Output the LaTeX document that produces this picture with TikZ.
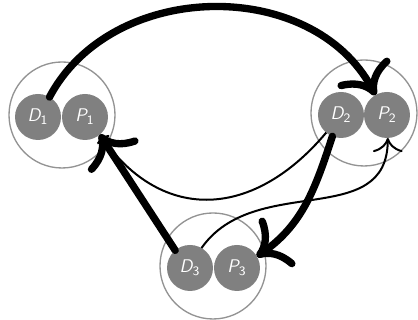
\documentclass[tikz,border=0pt]{standalone}
\usepackage{tikz}
\usepackage{xcolor}
\usetikzlibrary{arrows.meta}

\begin{document}
\begin{tikzpicture}[x=0.6pt, y=0.6pt,
    group/.style={circle, draw=gray!85, line width=0.8pt, minimum size=63.6pt, inner sep=0pt},
    proc/.style={circle, fill=gray, text=white, minimum size=27.6pt, inner sep=0pt, outer sep=0pt,
                 font=\fontsize{11}{13}\selectfont\sffamily},
    heavy/.style={-{To[scale=1.5]}, line width=4.4pt, line cap=round, line join=round},
    light/.style={-{To[scale=2]}, line width=1.2pt}]
    \useasboundingbox (0,0) rectangle (418,320);
    % the three groups
    \node[group] (g1) at (62,205) {};
    \node[group] (g2) at (364,207) {};
    \node[group] (g3) at (213,54) {};
    \node[proc] (d1) at (38,203) {\itshape D\textsubscript{\upshape 1}};
    \node[proc] (p1) at (85,203) {\itshape P\textsubscript{\upshape 1}};
    \node[proc] (d2) at (341,205) {\itshape D\textsubscript{\upshape 2}};
    \node[proc] (p2) at (387,205) {\itshape P\textsubscript{\upshape 2}};
    \node[proc] (d3) at (190,52) {\itshape D\textsubscript{\upshape 3}};
    \node[proc] (p3) at (237,52) {\itshape P\textsubscript{\upshape 3}};
    % messages
    \draw[light, -{To}] (d2.-130) to[out=-130, in=-55, looseness=1.25] (p1.-50);
    \draw[light] (d3.60) to[out=55, in=-90, looseness=1.1] (p2.-88);
    \draw[heavy] (d1.60) to[out=62, in=118, looseness=1.05] (p2.120);
    \draw[heavy] (d3.130) -- (p1.-50);
    \draw[heavy] (d2.-112) to[out=-108, in=35] (p3.30);
\end{tikzpicture}
\end{document}
